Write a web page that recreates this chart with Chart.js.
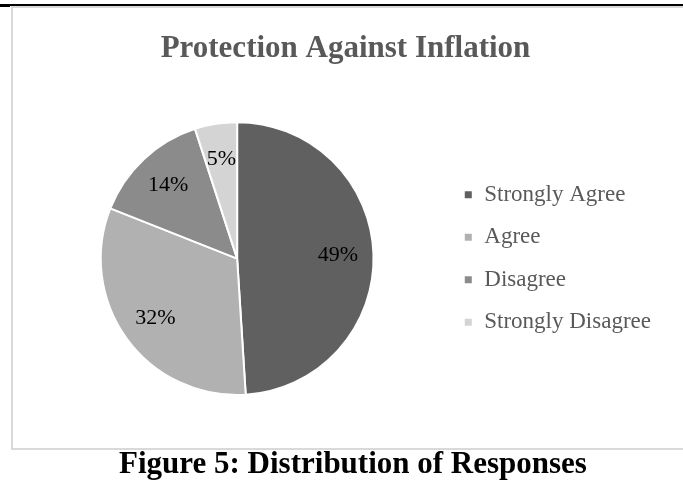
<!DOCTYPE html>
<html>
<head>
<meta charset="utf-8">
<script src="https://cdn.jsdelivr.net/npm/chart.js@4/dist/chart.umd.min.js"></script>
<style>
  html, body {
    margin: 0;
    padding: 0;
    background: #fff;
    width: 683px;
    height: 497px;
    overflow: hidden;
    position: relative;
  }
  .rule {
    position: absolute;
    left: 0;
    top: 4px;
    width: 683px;
    height: 2px;
    background: #000;
  }
  .rule-tick {
    position: absolute;
    left: 0;
    top: 6px;
    width: 10px;
    height: 1px;
    background: #000;
  }
  .frame {
    position: absolute;
    left: 11px;
    top: 6px;
    width: 800px;
    height: 440px;
    border: 2px solid #d9d9d9;
    border-right: none;
    box-sizing: content-box;
  }
  #pieChart {
    position: absolute;
    left: 13px;
    top: 8px;
  }
  .caption {
    position: absolute;
    left: 0;
    top: 445px;
    width: 706px;
    text-align: center;
    font: bold 31px/36px "Liberation Serif", "Times New Roman", serif;
    color: #000;
  }
</style>
</head>
<body>
<div class="rule"></div>
<div class="rule-tick"></div>
<div class="frame"></div>
<canvas id="pieChart" width="670" height="438"></canvas>
<div class="caption">Figure 5: Distribution of Responses</div>

<script>
// ==========================
// DATA
// ==========================
const categories = ["Strongly Agree", "Agree", "Disagree", "Strongly Disagree"];
const percentages = [49, 32, 14, 5];
const sliceColors = ["#606060", "#b1b1b1", "#8b8b8b", "#d4d4d4"];

const serif = '"Liberation Serif", "Times New Roman", serif';

// ==========================
// PERCENT LABELS INSIDE SLICES
// ==========================
const sliceLabels = {
    id: "sliceLabels",
    afterDatasetsDraw(chart) {
        const { ctx } = chart;
        const meta = chart.getDatasetMeta(0);
        ctx.save();
        ctx.font = `22px ${serif}`;
        ctx.fillStyle = "#000";
        ctx.textAlign = "center";
        ctx.textBaseline = "middle";
        meta.data.forEach((arc, i) => {
            const { x, y, startAngle, endAngle, outerRadius } =
                arc.getProps(["x", "y", "startAngle", "endAngle", "outerRadius"], true);
            const mid = (startAngle + endAngle) / 2;
            const r = outerRadius * 0.74;
            ctx.fillText(`${percentages[i]}%`, x + Math.cos(mid) * r, y + Math.sin(mid) * r);
        });
        ctx.restore();
    }
};

// ==========================
// CHART
// ==========================
const ctx = document.getElementById("pieChart");

new Chart(ctx, {
    type: "pie",
    data: {
        labels: categories,
        datasets: [
            {
                data: percentages,
                backgroundColor: sliceColors,
                borderColor: "#ffffff",
                borderWidth: 2,
                hoverOffset: 0
            }
        ]
    },
    options: {
        responsive: false,
        animation: false,
        layout: {
            padding: { left: 17, right: 22, top: 0, bottom: 50 }
        },
        plugins: {
            title: {
                display: true,
                text: "Protection Against Inflation",
                color: "#595959",
                font: { family: serif, size: 31, weight: "bold" },
                padding: { top: 22, bottom: 54 }
            },
            legend: {
                position: "right",
                fullSize: false,
                labels: {
                    color: "#595959",
                    font: { family: serif, size: 23 },
                    boxWidth: 9,
                    boxHeight: 9,
                    padding: 19.5
                }
            },
            tooltip: { enabled: false }
        }
    },
    plugins: [sliceLabels]
});
</script>
</body>
</html>
